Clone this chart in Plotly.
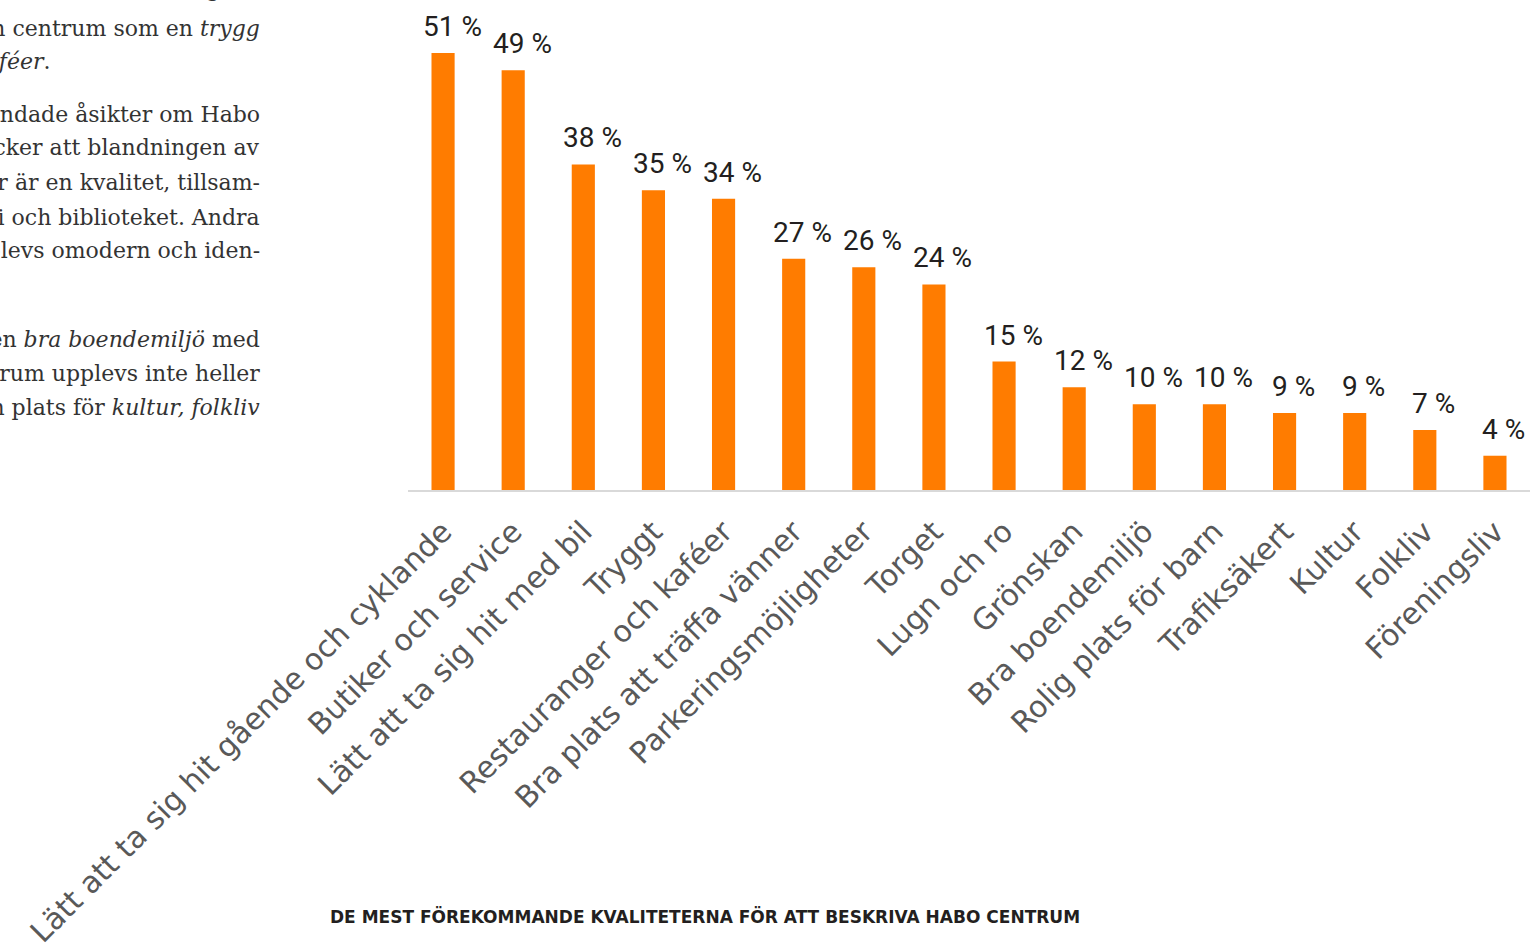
import plotly.graph_objects as go

categories = [
    "Lätt att ta sig hit gående och cyklande",
    "Butiker och service",
    "Lätt att ta sig hit med bil",
    "Tryggt",
    "Restauranger och kaféer",
    "Bra plats att träffa vänner",
    "Parkeringsmöjligheter",
    "Torget",
    "Lugn och ro",
    "Grönskan",
    "Bra boendemiljö",
    "Rolig plats för barn",
    "Trafiksäkert",
    "Kultur",
    "Folkliv",
    "Föreningsliv",
]
values = [51, 49, 38, 35, 34, 27, 26, 24, 15, 12, 10, 10, 9, 9, 7, 4]
value_labels = [f"{v} %" for v in values]

caption = "DE MEST FÖREKOMMANDE KVALITETERNA FÖR ATT BESKRIVA HABO CENTRUM"

body_lines = [
    "man kan beskriva det som <i>lätt att ta sig att</i>",
    "upplever man centrum som en <i>trygg</i>",
    "<i>plats med restauranger och kaféer</i>.",
    "Det finns även blandade åsikter om Habo",
    "centrum. Vissa tycker att blandningen av",
    "olika verksamheter är en kvalitet, tillsam-",
    "mans med närheten till Tiondi och biblioteket. Andra",
    "menar att centrum upplevs omodern och iden-",
    "titetslös.",
    "Få beskriver centrum som en <i>bra boendemiljö</i> med",
    "närheten till natur. Habo centrum upplevs inte heller",
    "som en plats för <i>kultur, folkliv</i>",
]
body_line_y = [-11, 28, 62, 114, 148, 182, 217, 251, 285, 339, 373, 407]
body_line_right = [262, 262, 53, 262, 262, 262, 262, 262, -10, 262, 262, 262]

W, H = 1530, 952
ML, MR, MT, MB = 408, 0, 0, 462
plot_w = W - ML - MR
plot_h = H - MT - MB

fig = go.Figure()
fig.add_trace(go.Bar(
    x=categories,
    y=values,
    marker=dict(color="#ff7c00", line=dict(width=0)),
    hoverinfo="skip",
))

ann = []
for c, v, t in zip(categories, values, value_labels):
    ann.append(dict(
        x=c, y=v, xref="x", yref="y", text=t, showarrow=False,
        yanchor="bottom", xanchor="center", yshift=8, xshift=9,
        font=dict(family="Roboto", size=28, color="#231f20"),
    ))

for line, ypx, rx in zip(body_lines, body_line_y, body_line_right):
    ann.append(dict(
        x=(rx - ML) / plot_w, y=(plot_h - ypx) / plot_h,
        xref="paper", yref="paper", text=line, showarrow=False,
        xanchor="right", yanchor="middle",
        font=dict(family="DejaVu Serif", size=22, color="#333333"),
    ))

ann.append(dict(
    x=(705 - ML) / plot_w, y=(plot_h - 916) / plot_h,
    xref="paper", yref="paper", text=caption, showarrow=False,
    xanchor="center", yanchor="middle",
    font=dict(family="DejaVu Sans", size=17, color="#231f20", weight="bold"),
))

fig.update_layout(
    width=W, height=H,
    margin=dict(l=ML, r=MR, t=MT, b=MB),
    paper_bgcolor="white", plot_bgcolor="white",
    showlegend=False,
    bargap=0.67,
    xaxis=dict(
        tickangle=-45,
        tickfont=dict(family="DejaVu Sans", size=30, color="#595959"),
        showline=True, linecolor="#d9d9d9", linewidth=2,
        showgrid=False, ticks="", automargin=False,
        ticklabelstandoff=10,
    ),
    yaxis=dict(range=[0, 57.2], visible=False, showgrid=False),
    annotations=ann,
)

fig.write_html(
    "out.html",
    config={"displayModeBar": False},
    post_script="document.body.style.margin='0';document.body.style.overflow='hidden';",
)
